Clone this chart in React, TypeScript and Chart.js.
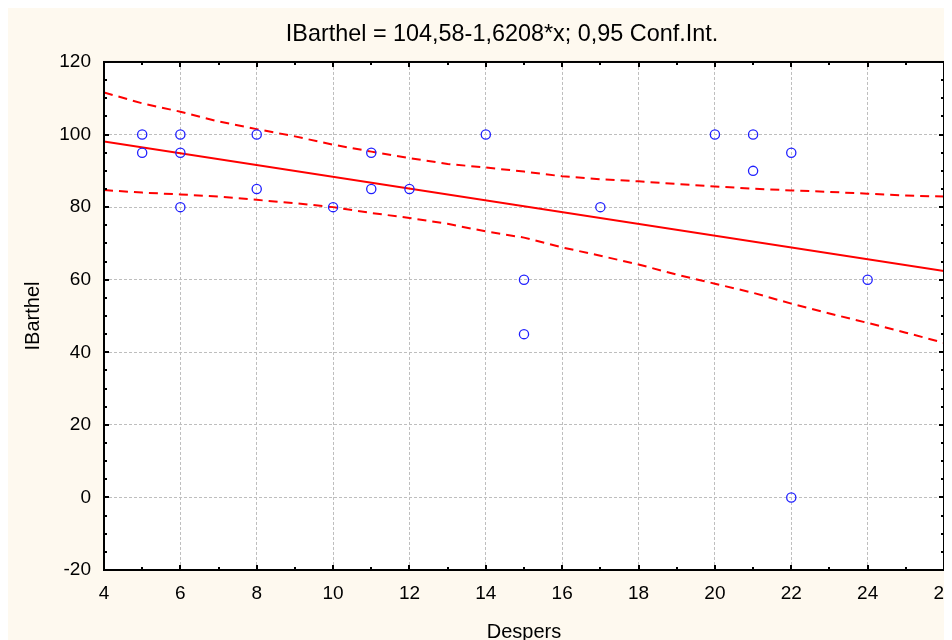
import React, { useEffect, useRef } from "react";
import { Chart, registerables } from "chart.js";

Chart.register(...registerables);

// ---- data ----
const despers = [5, 5, 6, 6, 6, 8, 8, 10, 11, 11, 12, 14, 15, 15, 17, 20, 21, 21, 22, 22, 24];
const ibarthel = [100, 95, 100, 95, 80, 100, 85, 80, 95, 85, 85, 100, 60, 45, 80, 100, 100, 90, 95, 0, 60];

const fitX = [4, 26];
const fitY = [98.1, 62.4];

const bandX = [4, 5, 6, 7, 8, 9, 10, 11, 12, 13, 14, 15, 16, 17, 18, 19, 20, 21, 22, 23, 24, 25, 26];
const upperY = [111.6, 108.6, 106.3, 103.6, 101.5, 99.5, 97.2, 95.3, 93.5, 91.9, 90.9, 89.8, 88.5, 87.7, 87.1, 86.4, 85.7, 85.1, 84.6, 84.2, 83.7, 83.2, 82.9];
const lowerY = [84.7, 84.0, 83.5, 82.9, 82.0, 81.1, 80.0, 78.4, 77.0, 75.4, 73.3, 71.6, 68.9, 66.6, 64.2, 61.4, 58.9, 56.4, 53.4, 50.7, 48.1, 45.4, 42.6];

const xRange = [4, 26];
const yRange = [-20, 120];
const xStep = 2;
const yStep = 20;

const chartTitle = "IBarthel = 104,58-1,6208*x; 0,95 Conf.Int.";
const xTitle = "Despers";
const yTitle = "IBarthel";

// ---- styles ----
const CREAM = "#FEF9EF";
const FONT = "'Liberation Sans', Arial, Helvetica, sans-serif";
const RED = "#FF0000";
const BLUE = "#2020FF";
const GRID = "#BEBEBE";

const toXY = (xs: number[], ys: number[]) => xs.map((x, i) => ({ x, y: ys[i] }));

const framePlugin = {
  id: "statFrame",
  beforeDraw(chart: any) {
    const { ctx, chartArea: a, width, height } = chart;
    ctx.save();
    ctx.fillStyle = CREAM;
    ctx.fillRect(0, 0, width, height);
    ctx.fillStyle = "#FFFFFF";
    ctx.fillRect(a.left, a.top, a.right - a.left, a.bottom - a.top);
    ctx.restore();
  },
  afterDraw(chart: any) {
    const { ctx, chartArea: a, scales } = chart;
    const xs = scales.x;
    const ys = scales.y;
    ctx.save();
    ctx.strokeStyle = "#000";
    ctx.lineWidth = 2;
    ctx.strokeRect(a.left, a.top, a.right - a.left, a.bottom - a.top);
    ctx.beginPath();
    for (let v = xs.min; v <= xs.max + 1e-9; v += 1) {
      const p = Math.round(xs.getPixelForValue(v));
      const len = Math.abs(v % 2) < 1e-9 ? 5 : 3;
      ctx.moveTo(p, a.bottom);
      ctx.lineTo(p, a.bottom - len);
      ctx.moveTo(p, a.top);
      ctx.lineTo(p, a.top + len);
    }
    for (let v = ys.min; v <= ys.max + 1e-9; v += 5) {
      const p = Math.round(ys.getPixelForValue(v));
      const len = Math.abs(v % 20) < 1e-9 ? 5 : 3;
      ctx.moveTo(a.left, p);
      ctx.lineTo(a.left + len, p);
      ctx.moveTo(a.right, p);
      ctx.lineTo(a.right - len, p);
    }
    ctx.stroke();
    ctx.restore();
  },
};

export default function App() {
  const ref = useRef<HTMLCanvasElement | null>(null);

  useEffect(() => {
    document.documentElement.style.overflow = "hidden";
    const canvas = ref.current;
    if (!canvas) return;
    const tickFont = { family: FONT, size: 19 };
    const axisTitleFont = { family: FONT, size: 20 };
    const chart = new Chart(canvas, {
      type: "scatter",
      data: {
        datasets: [
          {
            label: "points",
            data: toXY(despers, ibarthel),
            showLine: false,
            pointStyle: "circle",
            pointRadius: 4.6,
            pointBorderWidth: 1.3,
            pointBorderColor: BLUE,
            pointBackgroundColor: "rgba(0,0,0,0)",
            borderColor: BLUE,
            backgroundColor: "rgba(0,0,0,0)",
          },
          {
            label: "fit",
            data: toXY(fitX, fitY),
            showLine: true,
            borderColor: RED,
            borderWidth: 2,
            pointRadius: 0,
            fill: false,
          },
          {
            label: "upper",
            data: toXY(bandX, upperY),
            showLine: true,
            borderColor: RED,
            borderWidth: 2,
            borderDash: [9, 6],
            pointRadius: 0,
            fill: false,
          },
          {
            label: "lower",
            data: toXY(bandX, lowerY),
            showLine: true,
            borderColor: RED,
            borderWidth: 2,
            borderDash: [9, 6],
            pointRadius: 0,
            fill: false,
          },
        ],
      } as any,
      options: {
        animation: false,
        responsive: false,
        devicePixelRatio: 1,
        layout: { padding: 0 },
        plugins: {
          legend: { display: false },
          tooltip: { enabled: false },
          title: {
            display: true,
            text: chartTitle,
            color: "#000",
            font: { family: FONT, size: 23.4, weight: "normal" },
            padding: { top: 13, bottom: 12.9 },
          },
        },
        scales: {
          x: {
            type: "linear",
            position: "bottom",
            min: xRange[0],
            max: xRange[1],
            ticks: {
              stepSize: xStep,
              color: "#000",
              font: tickFont,
              padding: 12,
              maxRotation: 0,
              autoSkip: false,
            },
            grid: { color: GRID, lineWidth: 1, drawTicks: false },
            border: { display: false, dash: [3, 2] },
            title: {
              display: true,
              text: xTitle,
              color: "#000",
              font: axisTitleFont,
              padding: { top: 0, bottom: 24 },
            },
            afterFit: (s: any) => {
              s.height = 98;
            },
          },
          y: {
            type: "linear",
            position: "left",
            min: yRange[0],
            max: yRange[1],
            ticks: {
              stepSize: yStep,
              color: "#000",
              font: tickFont,
              padding: 13,
            },
            grid: { color: GRID, lineWidth: 1, drawTicks: false },
            border: { display: false, dash: [3, 2] },
            title: {
              display: true,
              text: yTitle,
              color: "#000",
              font: axisTitleFont,
              padding: { top: 13, bottom: 0 },
            },
            afterFit: (s: any) => {
              s.width = 96;
            },
          },
          y2: {
            type: "linear",
            position: "right",
            display: true,
            ticks: { display: false },
            grid: { display: false },
            border: { display: false },
            afterFit: (s: any) => {
              s.width = 52;
            },
          },
        },
      } as any,
      plugins: [framePlugin],
    });
    return () => chart.destroy();
  }, []);

  return (
    <div style={{ width: 944, height: 632, overflow: "hidden" }}>
      <canvas ref={ref} width={988} height={660} style={{ display: "block" }} />
    </div>
  );
}
